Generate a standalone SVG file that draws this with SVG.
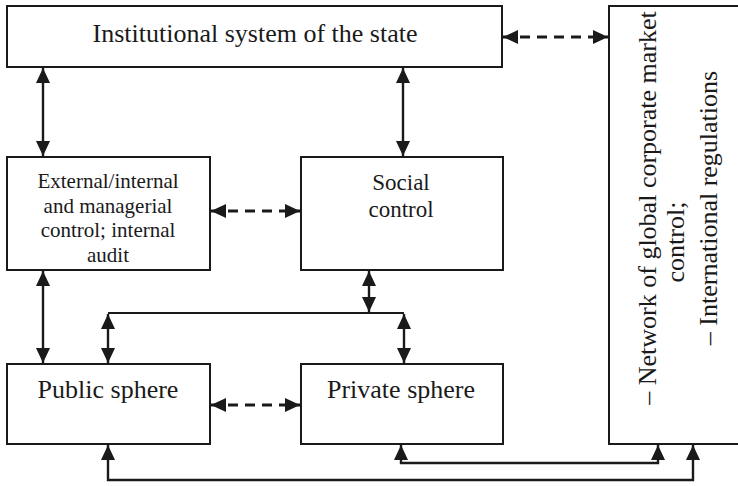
<svg xmlns="http://www.w3.org/2000/svg" width="738" height="486" viewBox="0 0 738 486">
  <style>
    .box { fill: #ffffff; stroke: #1a1a1a; stroke-width: 2; }
    .lbl { font-family: "Liberation Serif", "Times New Roman", serif; fill: #1a1a1a; text-anchor: middle; }
    .big { font-size: 26px; }
    .mid { font-size: 23px; }
    .sm { font-size: 21px; }
    .link { fill: none; stroke: #1a1a1a; stroke-width: 2.4; marker-start: url(#head); marker-end: url(#head); }
    .dash { stroke-width: 2.8; stroke-dasharray: 10 7; }
    .bus { fill: none; stroke: #1a1a1a; stroke-width: 2; }
  </style>
  <defs>
    <marker id="head" markerUnits="userSpaceOnUse" markerWidth="15" markerHeight="14" refX="15" refY="7" orient="auto-start-reverse">
      <path d="M0,0 L15,7 L0,14 z" fill="#1a1a1a"/>
    </marker>
  </defs>
  <rect width="738" height="486" fill="#ffffff"/>

  <!-- connectors -->
  <g id="connectors">
    <path class="link" d="M43,68 V156"/>
    <path class="link" d="M403,68 V156"/>
    <path class="link dash" d="M503,37 H608"/>
    <path class="link dash" d="M211,211 H300"/>
    <path class="link" d="M43,271 V363"/>
    <path class="link" d="M369,271 V312"/>
    <path class="bus" d="M108,313 H404"/>
    <path class="link" d="M108,314 V363"/>
    <path class="link" d="M404,314 V363"/>
    <path class="link dash" d="M211,405 H300"/>
    <path class="link" d="M401,445 V463 H658 V445"/>
    <path class="link" d="M108,445 V480 H693 V445"/>
  </g>

  <g id="state">
    <rect class="box" x="7" y="6" width="495" height="61"/>
    <text class="lbl big" x="255" y="42">Institutional system of the state</text>
  </g>

  <g id="global">
    <rect class="box" x="609" y="6" width="160" height="438"/>
    <text class="lbl big" transform="translate(656,208) rotate(-90)">–  Network of global corporate market</text>
    <text class="lbl big" transform="translate(684,242) rotate(-90)">control;</text>
    <text class="lbl big" transform="translate(717,208) rotate(-90)">–  International regulations</text>
  </g>

  <g id="internal">
    <rect class="box" x="7" y="157" width="203" height="113"/>
    <text class="lbl sm" x="108" y="188">External/internal</text>
    <text class="lbl sm" x="108" y="213">and managerial</text>
    <text class="lbl sm" x="108" y="237">control; internal</text>
    <text class="lbl sm" x="108" y="262">audit</text>
  </g>

  <g id="social">
    <rect class="box" x="301" y="157" width="202" height="113"/>
    <text class="lbl mid" x="401" y="190">Social</text>
    <text class="lbl mid" x="401" y="217">control</text>
  </g>

  <g id="public">
    <rect class="box" x="7" y="364" width="203" height="80"/>
    <text class="lbl big" x="108" y="398">Public sphere</text>
  </g>

  <g id="private">
    <rect class="box" x="301" y="364" width="202" height="80"/>
    <text class="lbl big" x="401" y="398">Private sphere</text>
  </g>
</svg>
